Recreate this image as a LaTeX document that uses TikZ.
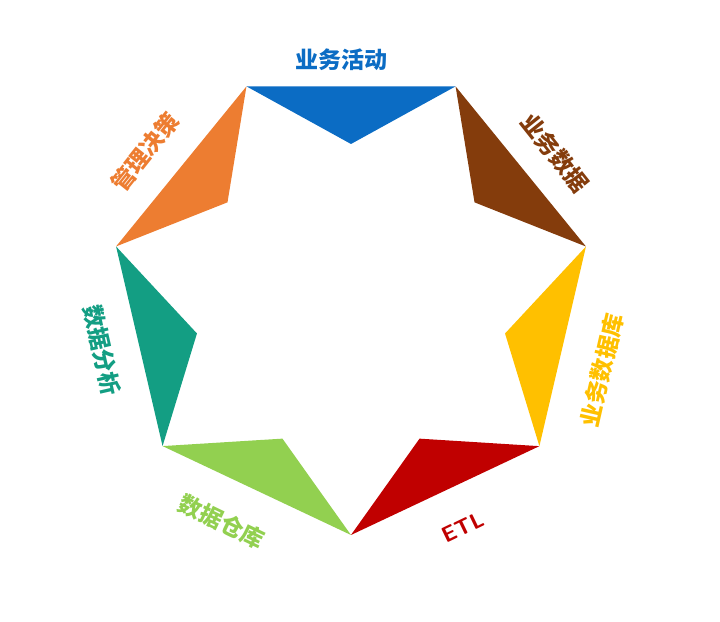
\documentclass[tikz,border=0pt]{standalone}
\usepackage{fontspec}
\newfontfamily\cjk{Noto Sans CJK SC}
\definecolor{cblue}{HTML}{0B6CC4}
\definecolor{cbrown}{HTML}{843C0C}
\definecolor{cyellow}{HTML}{FFC000}
\definecolor{cred}{HTML}{C00000}
\definecolor{cgreen}{HTML}{92D050}
\definecolor{cteal}{HTML}{139E83}
\definecolor{corange}{HTML}{ED7D31}
\tikzset{lbl/.style={font=\cjk\bfseries\fontsize{23}{25}\selectfont, inner sep=0pt}}
\begin{document}
\begin{tikzpicture}[x=1pt,y=1pt]
      \useasboundingbox (0,0) rectangle (720,621);
      \begin{scope}[shift={(351,322)}]
      % outer corners and inner points
      \foreach \k in {0,...,6} {
        \coordinate (o\k) at ({115.71-51.43*\k}:241 and 236);
        \coordinate (i\k) at ({90-51.43*\k}:158 and 155);
      }
      
      \fill[cblue] (o0) -- (o1) -- (i0) -- cycle;
      \fill[cbrown] (o1) -- (o2) -- (i1) -- cycle;
      \fill[cyellow] (o2) -- (o3) -- (i2) -- cycle;
      \fill[cred] (o3) -- (o4) -- (i3) -- cycle;
      \fill[cgreen] (o4) -- (o5) -- (i4) -- cycle;
      \fill[cteal] (o5) -- (o6) -- (i5) -- cycle;
      \fill[corange] (o6) -- (o0) -- (i6) -- cycle;
      
      \node[lbl, cblue] (ywhd) at (-10,239) {业务活动};
      \node[lbl, cbrown, rotate=-51.43] (ywsj) at (204,146) {业务数据};
      \node[lbl, cyellow, rotate=77.14] (ywsjk) at (251,-71) {业务数据库};
      \node[lbl, cred, rotate=25.71, font=\sffamily\bfseries\fontsize{22}{25}\selectfont] (etl) at (112,-228) {ETL};
      \node[lbl, cgreen, rotate=-25.71] (sjck) at (-129,-223) {数据仓库};
      \node[lbl, cteal, rotate=-77.14] (sjfx) at (-249,-51) {数据分析};
      \node[lbl, corange, rotate=51.43] (gljc) at (-206,147) {管理决策};
      \end{scope}
    \end{tikzpicture}
\end{document}
